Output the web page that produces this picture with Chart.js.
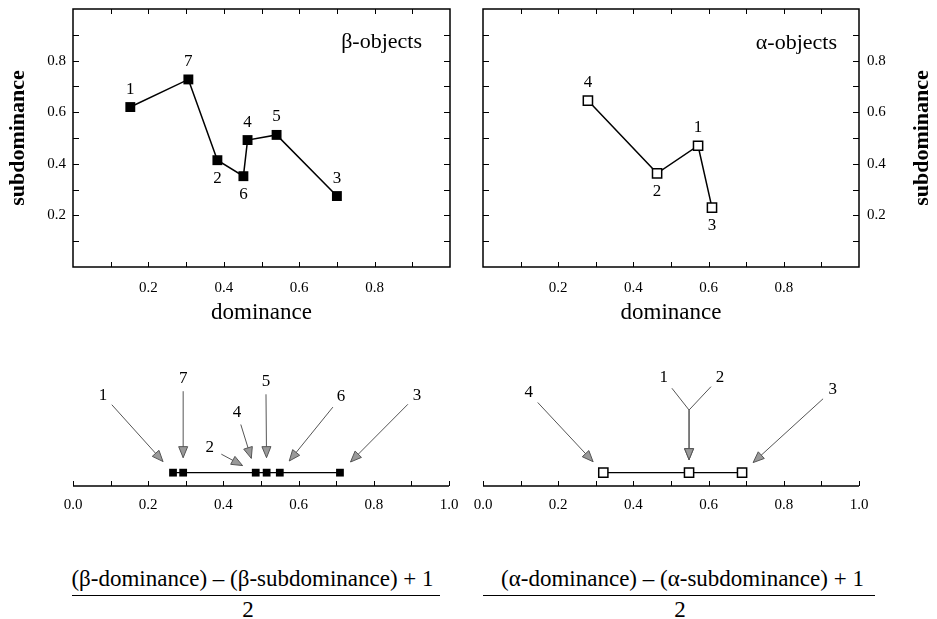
<!DOCTYPE html>
<html>
<head>
<meta charset="utf-8">
<script src="https://cdn.jsdelivr.net/npm/chart.js@4.4.1/dist/chart.umd.min.js"></script>
<style>
    body { margin: 0; background: #fff; width: 937px; height: 619px; overflow: hidden; position: relative; font-family: "Liberation Serif", serif; }
    canvas { position: absolute; }
    .num { position: absolute; font-size: 23px; line-height: 26px; white-space: nowrap; text-align: center; color: #000; }
    .bar { position: absolute; height: 0; border-top: 1.5px solid #000; }
</style>
</head>
<body>
<canvas id="betaChart" width="470" height="340" style="left:0;top:0"></canvas>
<canvas id="alphaChart" width="477" height="340" style="left:460px;top:0"></canvas>
<canvas id="betaLine" width="470" height="170" style="left:0;top:360px"></canvas>
<canvas id="alphaLine" width="477" height="170" style="left:460px;top:360px"></canvas>

<div class="num" style="left:65px;top:566px;width:375px">(β-dominance) – (β-subdominance) + 1</div>
<div class="bar" style="left:72px;top:595px;width:368px"></div>
<div class="num" style="left:228px;top:597px;width:40px">2</div>

<div class="num" style="left:490px;top:566px;width:385px">(α-dominance) – (α-subdominance) + 1</div>
<div class="bar" style="left:483px;top:595px;width:392px"></div>
<div class="num" style="left:660px;top:597px;width:40px">2</div>

<script>
// top panels: dominance / subdominance per object, ordered along the line
const betaLabels = ["1", "7", "2", "6", "4", "5", "3"];
const betaDominance = [0.152, 0.306, 0.383, 0.452, 0.463, 0.54, 0.70];
const betaSubdominance = [0.62, 0.727, 0.414, 0.352, 0.492, 0.512, 0.275];
const betaLabelSide = ["above", "above", "below", "below", "above", "above", "above"];

const alphaLabels = ["4", "2", "1", "3"];
const alphaDominance = [0.279, 0.463, 0.572, 0.609];
const alphaSubdominance = [0.645, 0.363, 0.47, 0.23];
const alphaLabelSide = ["above", "below", "above", "below"];

// bottom panels: (dominance - subdominance + 1) / 2
const betaScore = [0.266, 0.293, 0.486, 0.515, 0.55, 0.71];
const alphaScore = [0.32, 0.548, 0.689];

const betaArrowLabels = ["1", "7", "2", "4", "5", "6", "3"];
const betaArrowTarget = [0.266, 0.293, 0.486, 0.486, 0.515, 0.55, 0.71];
const betaArrowLabelX = [0.08, 0.293, 0.364, 0.436, 0.513, 0.713, 0.915];
const betaArrowLabelY = [0.756, 0.92, 0.24, 0.59, 0.89, 0.737, 0.756];

const alphaArrowLabels = ["4", "1", "2", "3"];
const alphaArrowTarget = [0.32, 0.548, 0.548, 0.689];
const alphaArrowLabelX = [0.122, 0.481, 0.63, 0.93];
const alphaArrowLabelY = [0.776, 0.922, 0.93, 0.805];
const alphaArrowJoin = [null, 0.61, 0.61, null];

const boxTickLabels = ["0.2", "0.4", "0.6", "0.8"];
const lineTickLabels = ["0.0", "0.2", "0.4", "0.6", "0.8", "1.0"];

const SERIF = "'Liberation Serif', 'Times New Roman', serif";

function tickCallback(list) {
    return (v) => {
        const s = (+v).toFixed(1);
        return list.includes(s) ? s : "";
    };
}

function noScalePadding(s) {
    s.paddingTop = 0;
    s.paddingBottom = 0;
    s.paddingLeft = 0;
    s.paddingRight = 0;
}

// closed frame with inward tick marks on all four sides
const framePlugin = {
    id: "frame",
    afterDraw(chart) {
        const { ctx, chartArea: a, scales } = chart;
        ctx.save();
        ctx.strokeStyle = "#000";
        ctx.lineWidth = 1.5;
        ctx.strokeRect(a.left, a.top, a.right - a.left, a.bottom - a.top);
        ctx.lineWidth = 1;
        ctx.beginPath();
        scales.x.ticks.forEach(t => {
            if (t.value <= 0.001 || t.value >= 0.999) return;
            const x = Math.round(scales.x.getPixelForValue(t.value)) + 0.5;
            ctx.moveTo(x, a.bottom); ctx.lineTo(x, a.bottom - 5);
            ctx.moveTo(x, a.top); ctx.lineTo(x, a.top + 5);
        });
        scales.y.ticks.forEach(t => {
            if (t.value <= 0.001 || t.value >= 0.999) return;
            const y = Math.round(scales.y.getPixelForValue(t.value)) + 0.5;
            ctx.moveTo(a.left, y); ctx.lineTo(a.left + 6, y);
            ctx.moveTo(a.right, y); ctx.lineTo(a.right - 6, y);
        });
        ctx.stroke();
        ctx.restore();
    }
};

// number line along the bottom of the chart area, ticks pointing up
const numberLinePlugin = {
    id: "numberLine",
    afterDraw(chart) {
        const { ctx, chartArea: a, scales } = chart;
        const x = scales.x;
        ctx.save();
        ctx.strokeStyle = "#000";
        ctx.lineWidth = 1.5;
        ctx.beginPath();
        ctx.moveTo(x.getPixelForValue(0), a.bottom);
        ctx.lineTo(x.getPixelForValue(1), a.bottom);
        ctx.stroke();
        ctx.lineWidth = 1;
        ctx.beginPath();
        x.ticks.forEach(t => {
            const px = Math.round(x.getPixelForValue(t.value)) + 0.5;
            ctx.moveTo(px, a.bottom); ctx.lineTo(px, a.bottom - 5);
        });
        ctx.stroke();
        ctx.restore();
    }
};

function pointLabelPlugin(labels, sides) {
    return {
        id: "pointLabels",
        afterDatasetsDraw(chart) {
            const ctx = chart.ctx;
            ctx.save();
            ctx.font = "17px " + SERIF;
            ctx.fillStyle = "#000";
            ctx.textAlign = "center";
            ctx.textBaseline = "middle";
            chart.getDatasetMeta(0).data.forEach((pt, i) => {
                const dy = sides[i] === "above" ? -18 : 18;
                ctx.fillText(labels[i], pt.x, pt.y + dy);
            });
            ctx.restore();
        }
    };
}

function panelTitlePlugin(text, dx, dy) {
    return {
        id: "panelTitle",
        afterDraw(chart) {
            const { ctx, chartArea: a } = chart;
            ctx.save();
            ctx.font = "22px " + SERIF;
            ctx.fillStyle = "#000";
            ctx.textAlign = "right";
            ctx.textBaseline = "middle";
            ctx.fillText(text, a.right - dx, a.top + dy);
            ctx.restore();
        }
    };
}

// right-hand axis title, reading bottom to top like the left one
const rightTitlePlugin = {
    id: "rightTitle",
    afterDraw(chart) {
        const { ctx, chartArea: a } = chart;
        ctx.save();
        ctx.translate(a.right + 63, (a.top + a.bottom) / 2);
        ctx.rotate(-Math.PI / 2);
        ctx.font = "bold 22px " + SERIF;
        ctx.fillStyle = "#000";
        ctx.textAlign = "center";
        ctx.textBaseline = "middle";
        ctx.fillText("subdominance", 0, 0);
        ctx.restore();
    }
};

function drawArrow(ctx, x0, y0, x1, y1) {
    const ang = Math.atan2(y1 - y0, x1 - x0);
    ctx.beginPath();
    ctx.moveTo(x0, y0);
    ctx.lineTo(x1, y1);
    ctx.stroke();
    const hl = 11, hw = 4.5;
    const bx = x1 - hl * Math.cos(ang), by = y1 - hl * Math.sin(ang);
    ctx.beginPath();
    ctx.moveTo(x1, y1);
    ctx.lineTo(bx + hw * Math.sin(ang), by - hw * Math.cos(ang));
    ctx.lineTo(bx - hw * Math.sin(ang), by + hw * Math.cos(ang));
    ctx.closePath();
    ctx.fill();
    ctx.stroke();
}

function arrowPlugin(labels, targets, labelX, labelY, join) {
    return {
        id: "arrows",
        afterDatasetsDraw(chart) {
            const { ctx, scales: { x, y } } = chart;
            ctx.save();
            ctx.font = "17px " + SERIF;
            ctx.textAlign = "center";
            ctx.textBaseline = "middle";
            ctx.strokeStyle = "#555";
            ctx.lineWidth = 1;
            labels.forEach((lab, i) => {
                const lx = x.getPixelForValue(labelX[i]);
                const ly = y.getPixelForValue(labelY[i]);
                ctx.fillStyle = "#000";
                ctx.fillText(lab, lx, ly);
                ctx.fillStyle = "#999";
                const tx = x.getPixelForValue(targets[i]);
                const ty = y.getPixelForValue(0);
                const jv = join ? join[i] : null;
                if (jv != null) {
                    const jy = y.getPixelForValue(jv);
                    const d = Math.hypot(tx - lx, jy - ly);
                    ctx.beginPath();
                    ctx.moveTo(lx + (tx - lx) * 13 / d, ly + (jy - ly) * 13 / d);
                    ctx.lineTo(tx, jy);
                    ctx.stroke();
                    drawArrow(ctx, tx, jy, tx, ty - 13);
                } else {
                    const d = Math.hypot(tx - lx, ty - ly);
                    const sx = lx + (tx - lx) * 13 / d, sy = ly + (ty - ly) * 13 / d;
                    drawArrow(ctx, sx, sy, tx - (tx - lx) * 15 / d, ty - (ty - ly) * 15 / d);
                }
            });
            ctx.restore();
        }
    };
}

function boxChart(id, dom, sub, filled, padding, yPos, extraPlugins) {
    const yAxis = {
        type: "linear", position: yPos, min: 0, max: 1,
        grid: { display: false, drawTicks: false },
        border: { display: false },
        ticks: { stepSize: 0.1, autoSkip: false, padding: yPos === "left" ? 7 : 8, color: "#000", font: { family: SERIF, size: 15 }, callback: tickCallback(boxTickLabels) },
        title: yPos === "left"
            ? { display: true, text: "subdominance", color: "#000", font: { family: SERIF, size: 22, weight: "bold" }, padding: { top: 5, bottom: 0 } }
            : { display: false },
        afterFit: (s) => { s.width = yPos === "left" ? 73 : 78; noScalePadding(s); }
    };
    return new Chart(document.getElementById(id), {
        type: "scatter",
        data: {
            datasets: [{
                data: dom.map((d, i) => ({ x: d, y: sub[i] })),
                showLine: true,
                borderColor: "#000",
                borderWidth: 1.5,
                pointStyle: "rect",
                pointRadius: filled ? 7 : 6.5,
                pointBackgroundColor: filled ? "#000" : "#fff",
                pointBorderColor: "#000",
                pointBorderWidth: filled ? 0 : 1.5
            }]
        },
        options: {
            responsive: false,
            animation: false,
            events: [],
            layout: { padding },
            plugins: { legend: { display: false }, tooltip: { enabled: false } },
            scales: {
                x: {
                    type: "linear", min: 0, max: 1,
                    grid: { display: false, drawTicks: false },
                    border: { display: false },
                    ticks: { stepSize: 0.1, autoSkip: false, maxRotation: 0, padding: 12, color: "#000", font: { family: SERIF, size: 15 }, callback: tickCallback(boxTickLabels) },
                    title: { display: true, text: "dominance", color: "#000", font: { family: SERIF, size: 23 }, padding: { top: 0, bottom: 13 } },
                    afterFit: (s) => { s.height = 73; noScalePadding(s); }
                },
                y: yAxis
            }
        },
        plugins: [framePlugin].concat(extraPlugins)
    });
}

function lineChart(id, scores, filled, padding, extraPlugins) {
    return new Chart(document.getElementById(id), {
        type: "scatter",
        data: {
            datasets: [{
                data: scores.map(v => ({ x: v, y: 0 })),
                showLine: true,
                borderColor: "#000",
                borderWidth: 1.2,
                pointStyle: "rect",
                pointRadius: filled ? 5.5 : 6.5,
                pointBackgroundColor: filled ? "#000" : "#fff",
                pointBorderColor: "#000",
                pointBorderWidth: filled ? 0 : 1.5
            }]
        },
        options: {
            responsive: false,
            animation: false,
            events: [],
            layout: { padding },
            plugins: { legend: { display: false }, tooltip: { enabled: false } },
            scales: {
                x: {
                    type: "linear", min: 0, max: 1,
                    grid: { display: false, drawTicks: false },
                    border: { display: false },
                    ticks: { stepSize: 0.1, autoSkip: false, maxRotation: 0, padding: 10, color: "#000", font: { family: SERIF, size: 15 }, callback: tickCallback(lineTickLabels) },
                    afterFit: (s) => { s.height = 44; noScalePadding(s); }
                },
                y: { type: "linear", min: -0.13, max: 1, display: false }
            }
        },
        plugins: [numberLinePlugin].concat(extraPlugins)
    });
}

boxChart("betaChart", betaDominance, betaSubdominance, true,
    { left: 0, top: 9, right: 20, bottom: 0 }, "left",
    [pointLabelPlugin(betaLabels, betaLabelSide), panelTitlePlugin("β-objects", 28, 33)]);

boxChart("alphaChart", alphaDominance, alphaSubdominance, false,
    { left: 23, top: 9, right: 0, bottom: 0 }, "right",
    [pointLabelPlugin(alphaLabels, alphaLabelSide), panelTitlePlugin("α-objects", 22, 34), rightTitlePlugin]);

lineChart("betaLine", betaScore, true,
    { left: 73, top: 10, right: 21, bottom: 0 },
    [arrowPlugin(betaArrowLabels, betaArrowTarget, betaArrowLabelX, betaArrowLabelY, null)]);

lineChart("alphaLine", alphaScore, false,
    { left: 23, top: 10, right: 78, bottom: 0 },
    [arrowPlugin(alphaArrowLabels, alphaArrowTarget, alphaArrowLabelX, alphaArrowLabelY, alphaArrowJoin)]);
</script>
</body>
</html>
